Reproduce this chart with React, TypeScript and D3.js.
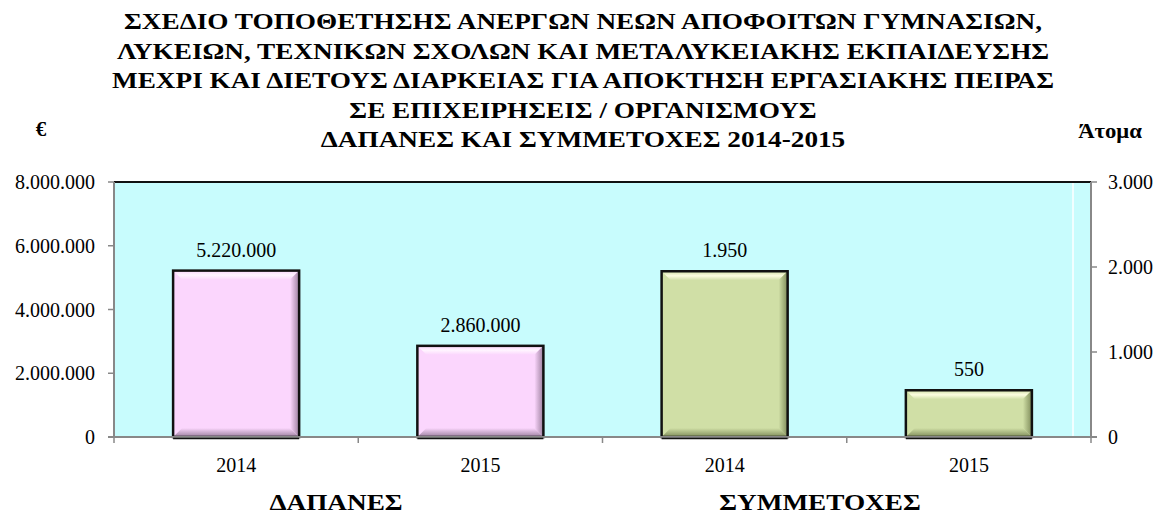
import React from "react";
import * as d3 from "d3";

// ΔΑΠΑΝΕΣ (€) and ΣΥΜΜΕΤΟΧΕΣ (άτομα), 2014-2015
const years = ["2014", "2015"];
const expenses = [5220000, 2860000];
const participants = [1950, 550];
const leftTicks = [0, 2000000, 4000000, 6000000, 8000000];
const rightTicks = [0, 1000, 2000, 3000];
const titleLines = [
  "ΣΧΕΔΙΟ ΤΟΠΟΘΕΤΗΣΗΣ ΑΝΕΡΓΩΝ ΝΕΩΝ ΑΠΟΦΟΙΤΩΝ ΓΥΜΝΑΣΙΩΝ,",
  "ΛΥΚΕΙΩΝ, ΤΕΧΝΙΚΩΝ ΣΧΟΛΩΝ ΚΑΙ ΜΕΤΑΛΥΚΕΙΑΚΗΣ ΕΚΠΑΙΔΕΥΣΗΣ",
  "ΜΕΧΡΙ ΚΑΙ ΔΙΕΤΟΥΣ ΔΙΑΡΚΕΙΑΣ ΓΙΑ ΑΠΟΚΤΗΣΗ ΕΡΓΑΣΙΑΚΗΣ ΠΕΙΡΑΣ",
  "ΣΕ ΕΠΙΧΕΙΡΗΣΕΙΣ / ΟΡΓΑΝΙΣΜΟΥΣ",
  "ΔΑΠΑΝΕΣ ΚΑΙ ΣΥΜΜΕΤΟΧΕΣ 2014-2015",
];
const groupLabels = ["ΔΑΠΑΝΕΣ", "ΣΥΜΜΕΤΟΧΕΣ"];

const W = 1158;
const H = 513;
const margin = { top: 182, right: 67, bottom: 76, left: 114 };
const FONT = "'Liberation Serif', 'Times New Roman', serif";
const STRETCH = 1.135; // the heading type is a bit wider than plain Times

const locale = d3.formatLocale({ decimal: ",", thousands: ".", grouping: [3], currency: ["", "€"] });
const fmt = locale.format(",d");

type Bar = { key: string; label: string; value: number; axis: "left" | "right" };

const bars: Bar[] = [
  ...years.map((y, i) => ({ key: "e" + i, label: y, value: expenses[i], axis: "left" as const })),
  ...years.map((y, i) => ({ key: "p" + i, label: y, value: participants[i], axis: "right" as const })),
];

const palettes: Record<string, { base: string; light: string; dark: string }> = {
  pink: { base: "#FBD6FD", light: "#FFF4FF", dark: "#9C7F9E" },
  green: { base: "#D0DFA6", light: "#FCFDE0", dark: "#7F8C5A" },
};

function BevelBar({ x0, y0, x1, y1, id }: { x0: number; y0: number; x1: number; y1: number; id: string }) {
  const b = Math.min(9, (y1 - y0) / 2.5);
  return (
    <g>
      <rect x={x0} y={y0} width={x1 - x0} height={y1 - y0} fill={palettes[id].base} />
      <polygon points={`${x0},${y0} ${x1},${y0} ${x1 - b},${y0 + b} ${x0 + b},${y0 + b}`} fill={`url(#top-${id})`} />
      <polygon points={`${x1},${y0} ${x1},${y1} ${x1 - b},${y1 - b} ${x1 - b},${y0 + b}`} fill={`url(#right-${id})`} />
      <polygon points={`${x0},${y1} ${x1},${y1} ${x1 - b},${y1 - b} ${x0 + b},${y1 - b}`} fill={`url(#bottom-${id})`} />
      <rect x={x0} y={y0} width={x1 - x0} height={y1 - y0} fill="none" stroke="#111" strokeWidth={2.5} />
    </g>
  );
}

// bold heading text, stretched horizontally around its own centre
function Heading({ x, y, size, children }: { x: number; y: number; size: number; children: React.ReactNode }) {
  return (
    <g transform={`translate(${x},${y}) scale(${STRETCH},1)`}>
      <text x={0} y={0} textAnchor="middle" fontSize={size} fontWeight="bold" fill="#000">
        {children}
      </text>
    </g>
  );
}

export default function App() {
  const innerW = W - margin.left - margin.right;
  const innerH = H - margin.top - margin.bottom;
  const x0 = margin.left;
  const x1 = margin.left + innerW;
  const yBase = margin.top + innerH;

  const x = d3.scaleBand<string>()
    .domain(bars.map((d) => d.key))
    .range([x0, x1])
    .paddingInner(0.484)
    .paddingOuter(0.242);
  const band = d3.scaleBand<string>().domain(bars.map((d) => d.key)).range([x0, x1]);

  const yLeft = d3.scaleLinear().domain([0, 8000000]).range([yBase, margin.top]);
  const yRight = d3.scaleLinear().domain([0, 3000]).range([yBase, margin.top]);

  const groupCenters = [336, 820];

  return (
    <svg width={W} height={H} style={{ position: "absolute", left: 0, top: 0, background: "#fff" }} fontFamily={FONT}>
      <defs>
        {Object.entries(palettes).map(([id, p]) => (
          <React.Fragment key={id}>
            <linearGradient id={`top-${id}`} x1="0" y1="0" x2="0" y2="1">
              <stop offset="0" stopColor={p.base} />
              <stop offset="0.5" stopColor={p.light} />
              <stop offset="1" stopColor={p.base} />
            </linearGradient>
            <linearGradient id={`right-${id}`} x1="0" y1="0" x2="1" y2="0">
              <stop offset="0" stopColor={p.base} />
              <stop offset="1" stopColor={p.dark} />
            </linearGradient>
            <linearGradient id={`bottom-${id}`} x1="0" y1="0" x2="0" y2="1">
              <stop offset="0" stopColor={p.base} />
              <stop offset="1" stopColor={p.dark} />
            </linearGradient>
          </React.Fragment>
        ))}
      </defs>

      {/* title */}
      {titleLines.map((t, i) => (
        <Heading key={i} x={583} y={29 + i * 29.5} size={24}>
          {t}
        </Heading>
      ))}
      <text x={41} y={136} textAnchor="middle" fontSize={21} fontWeight="bold">€</text>
      <Heading x={1110} y={138} size={20}>Άτομα</Heading>

      {/* plot area */}
      <rect x={x0} y={margin.top} width={innerW} height={innerH} fill="#C8FCFD" />
      <line x1={1073} x2={1073} y1={margin.top + 1} y2={yBase} stroke="#fff" strokeWidth={1.5} />
      <line x1={x0} x2={x1} y1={margin.top} y2={margin.top} stroke="#111" strokeWidth={2} />

      {/* bars */}
      {bars.map((d) => {
        const y = d.axis === "left" ? yLeft : yRight;
        const bx = x(d.key)!;
        const pal = d.axis === "left" ? "pink" : "green";
        return (
          <g key={d.key}>
            <BevelBar x0={bx} x1={bx + x.bandwidth()} y0={y(d.value)} y1={yBase} id={pal} />
            <text x={bx + x.bandwidth() / 2} y={y(d.value) - 14} textAnchor="middle" fontSize={20}>
              {fmt(d.value)}
            </text>
          </g>
        );
      })}

      {/* bottom axis */}
      <line x1={x0 - 6} x2={x1 + 6} y1={yBase} y2={yBase} stroke="#888" strokeWidth={2} />
      {bars.map((d) => (
        <line key={"bb" + d.key} x1={x(d.key)!} x2={x(d.key)! + x.bandwidth()} y1={yBase + 1.5} y2={yBase + 1.5} stroke="#111" strokeWidth={1.5} />
      ))}
      {[...bars.map((d) => band(d.key)!), x1].map((t, i) => (
        <line key={"bt" + i} x1={t} x2={t} y1={yBase} y2={yBase + 6} stroke="#888" strokeWidth={1.5} />
      ))}
      {bars.map((d) => (
        <text key={"bl" + d.key} x={band(d.key)! + band.bandwidth() / 2} y={472} textAnchor="middle" fontSize={20}>
          {d.label}
        </text>
      ))}
      {groupLabels.map((g, i) => (
        <Heading key={g} x={groupCenters[i]} y={510} size={24}>
          {g}
        </Heading>
      ))}

      {/* left axis */}
      <line x1={x0} x2={x0} y1={margin.top} y2={yBase} stroke="#888" strokeWidth={2} />
      {leftTicks.map((t) => (
        <g key={"l" + t}>
          <line x1={x0 - 6} x2={x0} y1={yLeft(t)} y2={yLeft(t)} stroke="#888" strokeWidth={1.5} />
          <text x={95} y={yLeft(t)} dy="0.35em" textAnchor="end" fontSize={20}>
            {fmt(t)}
          </text>
        </g>
      ))}

      {/* right axis */}
      <line x1={x1} x2={x1} y1={margin.top} y2={yBase} stroke="#888" strokeWidth={2} />
      {rightTicks.map((t) => (
        <g key={"r" + t}>
          <line x1={x1} x2={x1 + 6} y1={yRight(t)} y2={yRight(t)} stroke="#888" strokeWidth={1.5} />
          <text x={1108} y={yRight(t)} dy="0.35em" textAnchor="start" fontSize={20}>
            {fmt(t)}
          </text>
        </g>
      ))}
    </svg>
  );
}
